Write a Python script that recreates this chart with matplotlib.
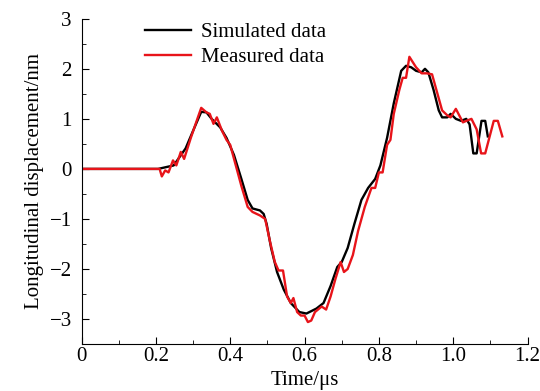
import matplotlib.pyplot as plt
from matplotlib.ticker import MultipleLocator

plt.rcParams['font.family'] = ['Liberation Serif', 'DejaVu Serif']

# simulated signal (time in us, displacement in nm)
t_sim = [0, 0.206, 0.248, 0.28, 0.30, 0.322, 0.336, 0.35, 0.373, 0.39, 0.41,
         0.43, 0.447, 0.46, 0.48, 0.49, 0.498, 0.51, 0.526, 0.544, 0.563,
         0.586, 0.605, 0.632, 0.651, 0.67, 0.688, 0.70, 0.716, 0.734, 0.753,
         0.771, 0.79, 0.804, 0.822, 0.84, 0.86, 0.873, 0.887, 0.90, 0.915,
         0.924, 0.933, 0.947, 0.961, 0.97, 0.984, 0.993, 1.007, 1.021, 1.035,
         1.044, 1.054, 1.063, 1.076, 1.086, 1.093]
u_sim = [0, 0, 0.07, 0.41, 0.76, 1.14, 1.13, 1.0, 0.83, 0.62, 0.28,
         -0.2, -0.62, -0.79, -0.83, -0.9, -1.1, -1.58, -2.06, -2.41, -2.68,
         -2.86, -2.89, -2.79, -2.68, -2.34, -1.96, -1.86, -1.58, -1.1, -0.62,
         -0.38, -0.2, 0.07, 0.62, 1.31, 1.96, 2.06, 2.03, 1.96, 1.93,
         2.0, 1.93, 1.58, 1.17, 1.03, 1.03, 1.1, 1.0, 0.96, 1.0,
         0.89, 0.31, 0.31, 0.96, 0.96, 0.65]

# measured signal
t_meas = [0, 0.21, 0.216, 0.225, 0.234, 0.246, 0.255, 0.267, 0.276, 0.294,
          0.313, 0.322, 0.336, 0.345, 0.355, 0.364, 0.378, 0.39, 0.40, 0.415,
          0.43, 0.447, 0.46, 0.48, 0.494, 0.507, 0.52, 0.53, 0.542, 0.553,
          0.563, 0.57, 0.58, 0.59, 0.60, 0.609, 0.618, 0.628, 0.646, 0.658,
          0.67, 0.683, 0.697, 0.706, 0.716, 0.73, 0.744, 0.762, 0.78, 0.79,
          0.80, 0.81, 0.822, 0.831, 0.84, 0.855, 0.864, 0.873, 0.882, 0.90,
          0.915, 0.929, 0.943, 0.952, 0.97, 0.984, 0.993, 1.007, 1.026, 1.035,
          1.049, 1.063, 1.075, 1.086, 1.109, 1.12, 1.132]
u_meas = [0, 0, -0.15, -0.03, -0.07, 0.17, 0.07, 0.34, 0.2, 0.62,
          1.03, 1.22, 1.13, 1.1, 0.9, 1.03, 0.76, 0.58, 0.48, 0.07,
          -0.34, -0.76, -0.86, -0.93, -1.0, -1.45, -1.86, -2.03, -2.03, -2.55,
          -2.68, -2.58, -2.86, -2.93, -2.93, -3.06, -3.03, -2.86, -2.75, -2.81,
          -2.55, -2.2, -1.86, -2.06, -2.0, -1.72, -1.24, -0.76, -0.38, -0.38,
          -0.07, -0.07, 0.48, 0.58, 1.1, 1.58, 1.82, 1.82, 2.24, 2.03,
          1.91, 1.91, 1.89, 1.65, 1.17, 1.07, 1.03, 1.2, 0.93, 0.96,
          1.0, 0.79, 0.31, 0.31, 0.96, 0.96, 0.65]

fig = plt.figure(figsize=(5.4, 3.91), dpi=100)
ax = fig.add_axes([0.151, 0.12, 0.826, 0.832])

ax.plot(t_sim, u_sim, color='black', lw=1.7, label='Simulated data')
ax.plot(t_meas, u_meas, color='#e8141a', lw=1.7, label='Measured data')

ax.set_xlim(0, 1.2)
ax.set_ylim(-3.5, 3)
ax.xaxis.set_minor_locator(MultipleLocator(0.1))
ax.yaxis.set_minor_locator(MultipleLocator(0.5))
ax.set_xticks([0, 0.2, 0.4, 0.6, 0.8, 1.0, 1.2])
ax.set_xticklabels(['0', '0.2', '0.4', '0.6', '0.8', '1.0', '1.2'])
ax.set_yticks([-3, -2, -1, 0, 1, 2, 3])
ax.set_yticklabels(['\u22123', '\u22122', '\u22121', '0', '1', '2', '3'])

ax.tick_params(which='both', direction='in', labelsize=15)
ax.tick_params(axis='x', pad=2)
ax.tick_params(axis='y', pad=7)
ax.tick_params(which='major', length=5)
ax.tick_params(which='minor', length=3)
for s in ['top', 'right']:
    ax.spines[s].set_visible(False)

ax.set_xlabel('Time/\u03bcs', fontsize=15, labelpad=4)
ax.set_ylabel('Longitudinal displacement/nm', fontsize=15, labelpad=4)

ax.legend(loc='upper left', bbox_to_anchor=(0.1, 1.045), frameon=False,
          fontsize=15, handlelength=2.2, handletextpad=0.5, labelspacing=0.25)

fig.savefig('out.png')
